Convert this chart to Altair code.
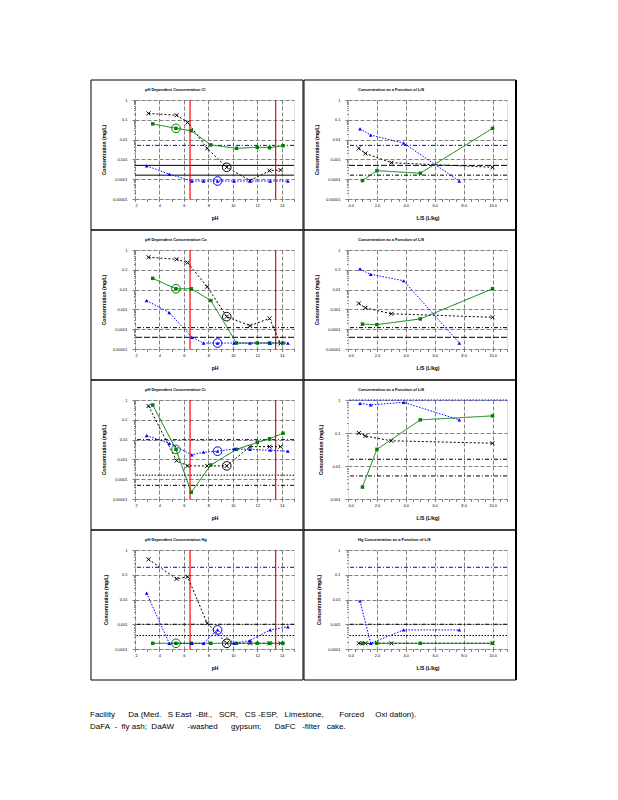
import altair as alt
import pandas as pd

# ---------------- data ----------------
PH_BLACK = [3.1, 5.4, 6.3, 7.9, 9.5, 11.4, 13.0, 13.9]
PH_GREEN = [3.45, 5.35, 6.6, 8.2, 10.3, 12.0, 13.0, 14.1]
PH_BLUE = [2.95, 4.8, 6.65, 7.6, 8.75, 10.1, 11.4, 13.05, 14.5]
NATURAL_IDX = {"black": 4, "green": 1, "blue": 4}

LS_BLACK = [0.75, 1.2, 3.0, 10.0]
LS_GREEN = [1.0, 2.0, 5.0, 10.0]
LS_BLUE = [0.83, 1.57, 3.85, 7.7]

RED_PH = [6.5, 13.5]

# row 1
A1_BLACK = [0.21, 0.17, 0.074, 0.0036, 0.0004, 0.000085, 0.00027, 0.00029]
A1_GREEN = [0.062, 0.037, 0.028, 0.0054, 0.0036, 0.0041, 0.0039, 0.0049]
A1_BLUE = [0.00047, 0.00018, 0.000081, 0.000081, 0.000081, 0.000081, 0.000081, 0.000081, 0.000081]
B1_BLACK = [0.0036, 0.002, 0.00068, 0.0004]
B1_GREEN = [0.000085, 0.00027, 0.0002, 0.037]
B1_BLUE = [0.035, 0.017, 0.0066, 0.000081]
REF1 = [0.0051, 0.0005, 0.00016]

# row 2
A2_BLACK = [0.43, 0.34, 0.23, 0.014, 0.00043, 0.00015, 0.00035, 0.000019]
A2_GREEN = [0.037, 0.011, 0.011, 0.0028, 0.00002, 0.00002, 0.00002, 0.00002]
A2_BLUE = [0.0028, 0.00069, 0.000039, 0.00002, 0.00002, 0.00002, 0.00002, 0.00002, 0.00002]
B2_BLACK = [0.002, 0.0012, 0.0006, 0.0004]
B2_GREEN = [0.00018, 0.00017, 0.00033, 0.011]
B2_BLUE = [0.11, 0.059, 0.028, 0.00002]
REF2 = [0.00012, 0.000039]

# row 3
A3_BLACK = [0.5, 0.00087, 0.00047, 0.00047, 0.00047, 0.0044, 0.0044, 0.0044]
A3_GREEN = [0.56, 0.0032, 0.000022, 0.00052, 0.0032, 0.0072, 0.011, 0.021]
A3_BLUE = [0.016, 0.0065, 0.0017, 0.0023, 0.0026, 0.0034, 0.0032, 0.0029, 0.0026]
B3_BLACK = [0.1, 0.081, 0.058, 0.049]
B3_GREEN = [0.0023, 0.032, 0.25, 0.33]
B3_BLUE = [0.79, 0.71, 0.85, 0.25]
REF3_LEFT = [0.01, 0.00016, 0.000049]
REF3_RIGHT = [1.0, 0.016, 0.005]

# row 4
A4_BLACK = [0.42, 0.068, 0.083, 0.0011, 0.00017, 0.00017, 0.00017, 0.00017]
A4_GREEN = [0.00017, 0.00017, 0.00017, 0.00017, 0.00017, 0.00017, 0.00017, 0.00017]
A4_BLUE = [0.018, 0.00017, 0.00017, 0.00017, 0.00059, 0.00017, 0.00022, 0.00059, 0.00079]
B4_BLACK = [0.00017, 0.00017, 0.00017, 0.00017]
B4_GREEN = [0.00017, 0.00017, 0.00017, 0.00017]
B4_BLUE = [0.0087, 0.00017, 0.00059, 0.00059]
REF4 = [0.2, 0.001, 0.00035]

Y_DOMAINS = [(-5, 0), (-5, 0), (-5, 0), (-4, 0)]
Y_DOMAIN_3R = (-3, 0)

TITLES_LEFT = ["pH Dependent Concentration Cl", "pH Dependent Concentration Co",
               "pH Dependent Concentration Cr", "pH Dependent Concentration Hg"]
TITLES_RIGHT = ["Concentration as a Function of L/S", "Concentration as a Function of L/S",
                "Concentration as a Function of L/S", "Hg Concentration as a Function of L/S"]

NB = "\u00a0"
FOOTER = [
    f"Facility{NB*6}Da{NB}(Med.{NB*3}S East{NB*2}-Bit.,{NB*3}SCR,{NB*3}CS -ESP,{NB*3}Limestone,{NB*7}Forced{NB*5}Oxi dation).",
    f"DaFA{NB*2}-{NB*2}fly{NB}ash;{NB*2}DaAW{NB*6}-washed{NB*6}gypsum;{NB*6}DaFC{NB*3}-filter{NB*3}cake.",
]

# ---------------- styles ----------------
W, H = 159, 99
SERIES_STYLE = {
    "black": dict(color="black", dash=[2, 2], shape="M-1,-1L1,1M-1,1L1,-1", filled=False, size=16),
    "green": dict(color="#008000", dash=[1, 0], shape="square", filled=True, size=12),
    "blue": dict(color="#0000ff", dash=[1.5, 1.5], shape="triangle-up", filled=True, size=14),
}
REF_STYLE = {
    "blue_dd": dict(color="#0000ff", dash=[4, 2, 1, 2]),
    "blue_dot": dict(color="#0000ff", dash=[1.5, 1.5]),
    "black_solid": dict(color="black", dash=[1, 0]),
    "black_long": dict(color="black", dash=[6, 2]),
    "black_dd": dict(color="black", dash=[4, 2, 1, 2]),
    "black_dot": dict(color="black", dash=[1.5, 1.5]),
}

DECADE = "abs(log(datum.value)/LN10 - round(log(datum.value)/LN10)) < 0.01"


def y_values(lo, hi):
    vals = []
    for e in range(lo, hi):
        for m in range(1, 10):
            vals.append(float(f"{m}e{e}"))
    vals.append(float(f"1e{hi}"))
    return vals


def y_axis(lo, hi):
    return alt.Axis(
        values=y_values(lo, hi),
        labelExpr=f"{DECADE} ? format(datum.value, '~g') : ''",
        tickSize={"condition": {"test": DECADE, "value": 3}, "value": 1.5},
        gridOpacity={"condition": {"test": DECADE, "value": 1}, "value": 0},
        grid=True, gridColor="#808080", gridDash=[4, 2], gridWidth=1,
        domain=False, tickColor="#808080", labelFontSize=4, labelPadding=5,
        labelOverlap=False, title="Concentration (mg/L)", titleFontSize=5,
        titleFontWeight="bold", titlePadding=6,
    )


def x_axis(ph):
    if ph:
        vals = list(range(2, 16))
        lab = "datum.value % 2 == 0 && datum.value < 15 ? datum.label : ''"
        test = "datum.value % 2 == 0"
        title = "pH"
    else:
        vals = [i / 2 for i in range(0, 23)]
        lab = "datum.value % 2 == 0 && datum.value < 11 ? datum.label : ''"
        test = "datum.value % 2 == 0 && datum.value > 0"
        title = "L/S (L/kg)"
    return alt.Axis(
        values=vals, labelExpr=lab, labelOverlap=False,
        gridOpacity={"condition": {"test": test, "value": 1}, "value": 0},
        grid=True, gridColor="#808080", gridDash=[4, 2], domain=False,
        tickSize=2.5, tickColor="#808080", labelFontSize=4, labelPadding=2,
        title=title, titleFontSize=5, titleFontWeight="bold", titlePadding=8,
    )


def make_panel(ph, title, series, ydom, refs, ref_kinds, right_edge=False):
    lo, hi = ydom
    xs_scale = alt.Scale(domain=[2, 15] if ph else [0, 11], nice=False, zero=False)
    ys_scale = alt.Scale(type="log", domain=[float(f"1e{lo}"), float(f"1e{hi}")], nice=False)
    xax, yax = x_axis(ph), y_axis(lo, hi)

    rows = []
    for name, (xs, ys) in series.items():
        for i, (x, y) in enumerate(zip(xs, ys)):
            rows.append({"x": x, "y": y, "series": name, "i": i,
                         "nat": bool(ph and i == NATURAL_IDX[name])})
    df = pd.DataFrame(rows)

    X = alt.X("x:Q", scale=xs_scale, axis=xax)
    Y = alt.Y("y:Q", scale=ys_scale, axis=yax)

    layers = []
    one = alt.Data(values=[{"t": title}])
    layers.append(
        alt.Chart(one).mark_rect(
            fill="white", fillOpacity=0, stroke="black", strokeWidth=1
        ).encode(x=alt.value(-44), x2=alt.value(W + 9), y=alt.value(-20), y2=alt.value(H + 31))
    )
    layers.append(
        alt.Chart(one).mark_text(
            align="left", baseline="middle", fontSize=4, fontWeight="bold", color="black"
        ).encode(text="t:N", x=alt.value(10), y=alt.value(-10))
    )
    if right_edge:
        layers.append(
            alt.Chart(one).mark_rect(color="black").encode(
                x=alt.value(W + 8), x2=alt.value(W + 10), y=alt.value(-20), y2=alt.value(H + 31))
        )
    for v, k in zip(refs, ref_kinds):
        st = REF_STYLE[k]
        layers.append(
            alt.Chart(pd.DataFrame({"y": [v]})).mark_rule(
                color=st["color"], strokeDash=st["dash"], strokeWidth=1
            ).encode(y=Y)
        )
    if ph:
        layers.append(
            alt.Chart(pd.DataFrame({"x": RED_PH})).mark_rule(color="red", strokeWidth=1.2).encode(x=X)
        )
    base = alt.Chart(df)
    for name in ["black", "green", "blue"]:
        st = SERIES_STYLE[name]
        sub = base.transform_filter(alt.datum.series == name)
        layers.append(sub.mark_line(color=st["color"], strokeDash=st["dash"], strokeWidth=1).encode(x=X, y=Y))
        layers.append(sub.mark_point(shape=st["shape"], filled=st["filled"], size=st["size"],
                                     color=st["color"], strokeWidth=1, opacity=1).encode(x=X, y=Y))
        if ph:
            layers.append(
                sub.transform_filter(alt.datum.nat == True).mark_point(
                    shape="circle", filled=False, size=75, color=st["color"], strokeWidth=1, opacity=1
                ).encode(x=X, y=Y)
            )
    return alt.layer(*layers).properties(width=W, height=H)


LEFT = [
    (A1_BLACK, A1_GREEN, A1_BLUE, REF1, ["blue_dd", "black_solid", "black_solid"]),
    (A2_BLACK, A2_GREEN, A2_BLUE, REF2, ["black_dd", "black_long"]),
    (A3_BLACK, A3_GREEN, A3_BLUE, REF3_LEFT, ["blue_dd", "black_dot", "black_dd"]),
    (A4_BLACK, A4_GREEN, A4_BLUE, REF4, ["blue_dd", "black_dd", "black_dot"]),
]
RIGHT = [
    (B1_BLACK, B1_GREEN, B1_BLUE, REF1, ["blue_dd", "black_long", "black_dd"]),
    (B2_BLACK, B2_GREEN, B2_BLUE, REF2, ["black_dd", "black_long"]),
    (B3_BLACK, B3_GREEN, B3_BLUE, REF3_RIGHT, ["blue_dot", "black_dd", "black_dd"]),
    (B4_BLACK, B4_GREEN, B4_BLUE, REF4, ["blue_dd", "black_dd", "black_dot"]),
]

rows = []
for r in range(4):
    lb, lg, lbl, lref, lk = LEFT[r]
    rb, rg, rbl, rref, rk = RIGHT[r]
    left = make_panel(True, TITLES_LEFT[r],
                      {"black": (PH_BLACK, lb), "green": (PH_GREEN, lg), "blue": (PH_BLUE, lbl)},
                      Y_DOMAINS[r], lref, lk)
    rdom = Y_DOMAIN_3R if r == 2 else Y_DOMAINS[r]
    right = make_panel(False, TITLES_RIGHT[r],
                       {"black": (LS_BLACK, rb), "green": (LS_GREEN, rg), "blue": (LS_BLUE, rbl)},
                       rdom, rref, rk, right_edge=True)
    rows.append(alt.hconcat(left, right, spacing=-1))

chart = alt.vconcat(*rows, spacing=-2).properties(
    padding={"left": 82, "top": 71, "right": 5, "bottom": 10},
    background="white",
    title=alt.TitleParams(FOOTER, orient="bottom", anchor="start", fontSize=8,
                          font="Liberation Sans", fontWeight="normal",
                          offset=30, lineHeight=12),
).configure_view(stroke="black", strokeWidth=1.5).configure(font="Liberation Sans")

chart.save("out.html", embed_options={"renderer": "svg", "actions": False})
